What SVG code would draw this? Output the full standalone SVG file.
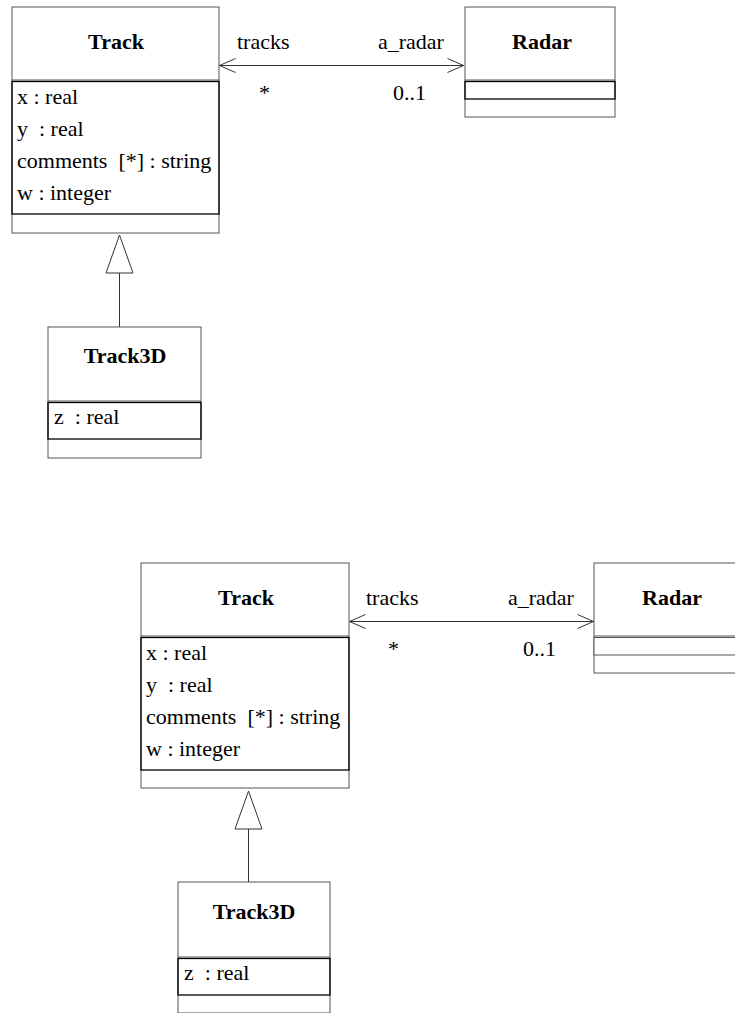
<svg xmlns="http://www.w3.org/2000/svg" width="735" height="1013" viewBox="0 0 735 1013">
<style>
.outer{fill:#fff;stroke:#555;stroke-width:1}
.comp{fill:none;stroke:#000;stroke-width:1.3}
.sep{stroke:#555;stroke-width:1}
text{font-family:'Liberation Serif','Times New Roman',Times,serif;font-size:22px;fill:#000}
.name{font-weight:bold;text-anchor:middle}
.conn{fill:none;stroke:#333;stroke-width:1}
.tri{fill:#fff;stroke:#333;stroke-width:1}
</style>
<rect width="735" height="1013" fill="#fff"/>

<g id="track1">
<rect class="outer" x="12" y="7" width="207" height="226"/>
<line class="sep" x1="12" y1="80" x2="219" y2="80"/>
<rect class="comp" x="12" y="81.5" width="207" height="132.5"/>
<text class="name" x="116" y="49">Track</text>
<text class="attr" x="17" y="104">x : real</text>
<text class="attr" x="17" y="136">y&#160; : real</text>
<text class="attr" x="17" y="168">comments&#160; [*] : string</text>
<text class="attr" x="17" y="200">w : integer</text>
</g>
<g id="radar1">
<rect class="outer" x="465" y="7" width="150" height="110"/>
<line class="sep" x1="465" y1="80" x2="615" y2="80"/>
<rect class="comp" x="465" y="81.5" width="150" height="17.5"/>
<text class="name" x="542" y="49">Radar</text>
</g>
<g id="track3d1">
<rect class="outer" x="48" y="327" width="153" height="131"/>
<line class="sep" x1="48" y1="401" x2="201" y2="401"/>
<rect class="comp" x="48" y="402.5" width="153" height="36.5"/>
<text class="name" x="125" y="363">Track3D</text>
<text class="attr" x="54" y="424">z&#160; : real</text>
</g>

<g id="track2">
<rect class="outer" x="141" y="563" width="208" height="225"/>
<line class="sep" x1="141" y1="636" x2="349" y2="636"/>
<rect class="comp" x="141" y="637.5" width="208" height="132.5"/>
<text class="name" x="246" y="605">Track</text>
<text class="attr" x="146" y="660">x : real</text>
<text class="attr" x="146" y="692">y&#160; : real</text>
<text class="attr" x="146" y="724">comments&#160; [*] : string</text>
<text class="attr" x="146" y="756">w : integer</text>
</g>
<g id="radar2">
<rect class="outer" x="594" y="563" width="150" height="110"/>
<line class="sep" x1="594" y1="636" x2="744" y2="636"/>
<rect class="outer" x="594" y="637.5" width="150" height="17.5" fill="none"/>
<text class="name" x="672" y="605">Radar</text>
</g>
<g id="track3d2">
<rect class="outer" x="178" y="882" width="152" height="131"/>
<line class="sep" x1="178" y1="957" x2="330" y2="957"/>
<rect class="comp" x="178" y="958.5" width="152" height="36.5"/>
<text class="name" x="254" y="919">Track3D</text>
<text class="attr" x="184" y="980">z&#160; : real</text>
</g>

<g id="connectors">
<line class="conn" x1="219.5" y1="65.5" x2="463.5" y2="65.5"/>
<polyline class="conn" points="235.5,58.5 219.5,65.5 235.5,72.5"/>
<polyline class="conn" points="447.5,58.5 463.5,65.5 447.5,72.5"/>
<line class="conn" x1="119.5" y1="273" x2="119.5" y2="327"/>
<polygon class="tri" points="119.5,235 106,273 133,273"/>
<line class="conn" x1="349.5" y1="621.5" x2="593.5" y2="621.5"/>
<polyline class="conn" points="365.5,614.5 349.5,621.5 365.5,628.5"/>
<polyline class="conn" points="577.5,614.5 593.5,621.5 577.5,628.5"/>
<line class="conn" x1="248.5" y1="829" x2="248.5" y2="882"/>
<polygon class="tri" points="248.5,791 235,829 262,829"/>
</g>

<g id="labels">
<text x="237" y="49">tracks</text>
<text x="378" y="49">a_radar</text>
<text x="259" y="100">*</text>
<text x="393" y="100">0..1</text>
<text x="366" y="605">tracks</text>
<text x="508" y="605">a_radar</text>
<text x="388" y="656">*</text>
<text x="523" y="656">0..1</text>
</g>
</svg>
